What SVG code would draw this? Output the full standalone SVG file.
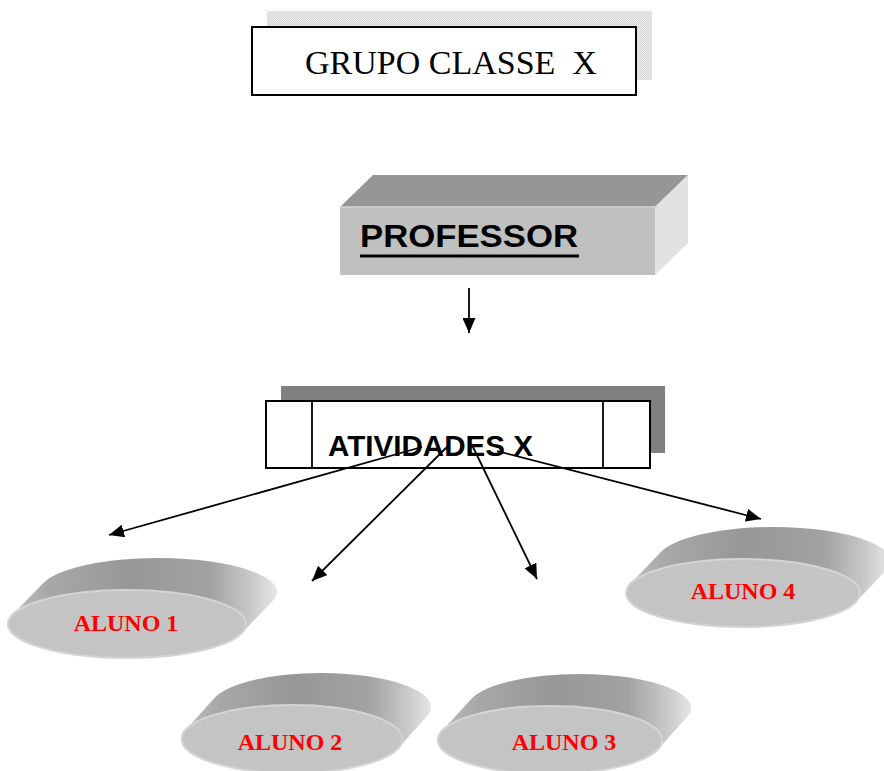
<svg xmlns="http://www.w3.org/2000/svg" width="884" height="771" viewBox="0 0 884 771">
  <style>
    .title { font-family: "Liberation Serif", "Times New Roman", serif; font-size: 34px; fill: #000; }
    .bold { font-family: "Liberation Sans", Arial, sans-serif; font-weight: bold; fill: #000; }
    .aluno { font-family: "Liberation Serif", "Times New Roman", serif; font-weight: bold; font-size: 24px; fill: #ff0000; text-anchor: middle; }
    .edge { stroke: #000; stroke-width: 1.8; fill: none; marker-end: url(#arrow); }
    .frame { fill: #fff; stroke: #000; stroke-width: 2; }
  </style>
  <defs>
    <pattern id="dots" width="2" height="2" patternUnits="userSpaceOnUse">
      <rect width="2" height="2" fill="#eeeeee"/>
      <rect width="1" height="1" fill="#cfcfcf"/>
      <rect x="1" y="1" width="1" height="1" fill="#d8d8d8"/>
    </pattern>
    <marker id="arrow" viewBox="0 0 15 13" refX="15" refY="6.5" markerWidth="15" markerHeight="13" markerUnits="userSpaceOnUse" orient="auto">
      <path d="M0,0 L15,6.5 L0,13 Z" fill="#000"/>
    </marker>
    <linearGradient id="side" x1="0" y1="0" x2="1" y2="0">
      <stop offset="0" stop-color="#c0c0c0"/>
      <stop offset="0.15" stop-color="#a8a8a8"/>
      <stop offset="0.45" stop-color="#979797"/>
      <stop offset="0.75" stop-color="#a2a2a2"/>
      <stop offset="0.9" stop-color="#c8c8c8"/>
      <stop offset="1" stop-color="#e6e6e6"/>
    </linearGradient>
    <!-- tilted disc: body swept up-right, front face on top -->
    <g id="disc">
      <path d="M-110.8,-9.08 L-80.8,-41.08 A115,34 0 0 1 30,-66 A115,34 0 0 1 140.8,-22.92 L110.8,9.08 A115,34 0 0 1 0,34 A115,34 0 0 1 -110.8,-9.08 Z" fill="url(#side)"/>
      <ellipse cx="0" cy="0" rx="115" ry="34" fill="#c4c4c4" stroke="#d4d4d4" stroke-width="2"/>
    </g>
  </defs>

  <rect width="884" height="771" fill="#fff"/>

  <g id="grupo">
    <rect x="267" y="11" width="385" height="69" fill="url(#dots)"/>
    <rect class="frame" x="252" y="27" width="384" height="68"/>
    <text class="title" x="305" y="74" xml:space="preserve">GRUPO CLASSE  X</text>
  </g>

  <g id="professor">
    <polygon points="340,207 373,175 688,175 655,207" fill="#969696"/>
    <polygon points="655,207 688,175 688,243 655,275" fill="#e2e2e2"/>
    <rect x="340" y="207" width="315" height="68" fill="#c0c0c0"/>
    <line x1="340" y1="207" x2="655" y2="207" stroke="#d4d4d4" stroke-width="1.5"/>
    <text class="bold" x="360" y="247" font-size="31" textLength="218" lengthAdjust="spacingAndGlyphs">PROFESSOR</text>
    <line x1="360" y1="256" x2="579" y2="256" stroke="#000" stroke-width="3"/>
  </g>

  <g id="atividades">
    <rect x="281" y="386" width="384" height="67" fill="#808080"/>
    <rect class="frame" x="266" y="401" width="384" height="67"/>
    <line x1="312" y1="401" x2="312" y2="468" stroke="#000" stroke-width="1.8"/>
    <line x1="603" y1="401" x2="603" y2="468" stroke="#000" stroke-width="1.8"/>
    <text class="bold" x="328" y="456" font-size="29" textLength="205" lengthAdjust="spacingAndGlyphs">ATIVIDADES X</text>
  </g>

  <g id="aluno1">
    <use href="#disc" transform="translate(127,624) scale(1.035,1)"/>
    <text class="aluno" x="126" y="631">ALUNO 1</text>
  </g>
  <g id="aluno2">
    <use href="#disc" transform="translate(292,739) scale(0.96,1)"/>
    <text class="aluno" x="290" y="750">ALUNO 2</text>
  </g>
  <g id="aluno3">
    <use href="#disc" transform="translate(550,740) scale(0.975,1)"/>
    <text class="aluno" x="564" y="750">ALUNO 3</text>
  </g>
  <g id="aluno4">
    <use href="#disc" transform="translate(743,593) scale(1.017,1)"/>
    <text class="aluno" x="743" y="599">ALUNO 4</text>
  </g>

  <g id="connectors">
    <line class="edge" x1="469" y1="288" x2="469" y2="333"/>
    <line class="edge" x1="422" y1="447" x2="109" y2="535"/>
    <line class="edge" x1="449" y1="445" x2="312" y2="581"/>
    <line class="edge" x1="472" y1="445" x2="537" y2="579"/>
    <line class="edge" x1="497" y1="451" x2="761" y2="519"/>
  </g>
</svg>
